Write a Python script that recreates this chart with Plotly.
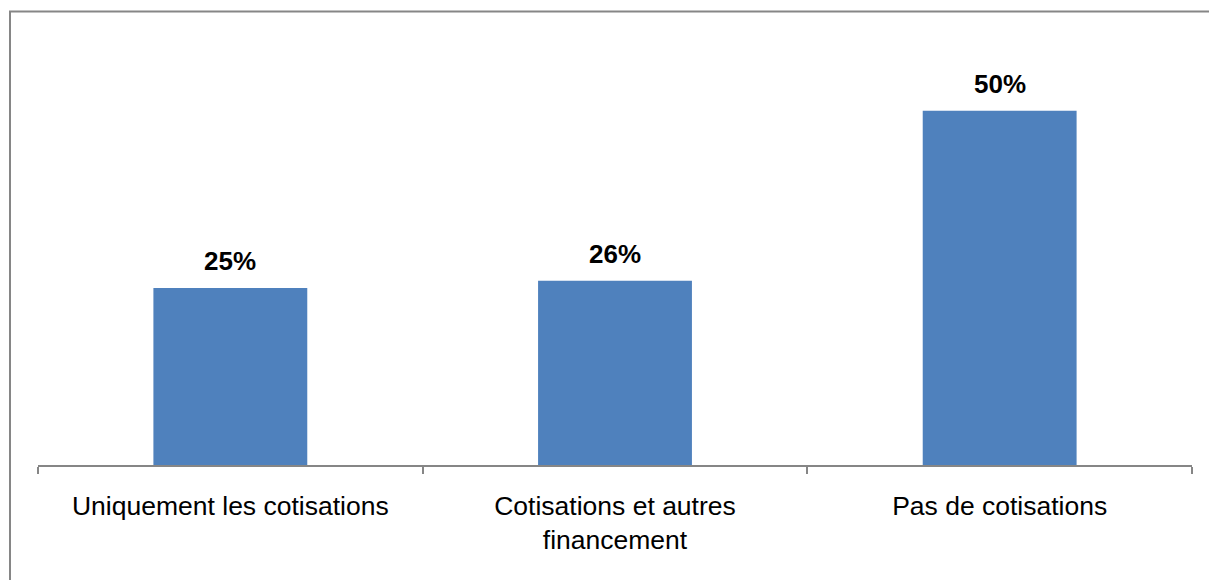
import plotly.graph_objects as go

categories = ["Uniquement les cotisations", "Cotisations et autres<br>financement", "Pas de cotisations"]
values = [25, 26, 50]
value_labels = ["25%", "26%", "50%"]

W, H = 1209, 580
ml, mr, mt, mb = 38, 17, 40, 115
pw, ph = W - ml - mr, H - mt - mb

fig = go.Figure()
fig.add_trace(go.Bar(
    x=categories, y=values, width=0.4,
    marker=dict(color="#4F81BD", line=dict(width=0)),
    hoverinfo="skip",
))

for c, v, t in zip(categories, values, value_labels):
    fig.add_annotation(x=c, y=v, text="<b>" + t + "</b>", showarrow=False,
                       yanchor="bottom", yshift=10,
                       font=dict(family="Liberation Sans, Arial", size=26, color="#000000"))

# outer frame (cropped rectangle)
def px_x(p):
    return (p - ml) / pw

def px_y(p):
    return (H - mb - p) / ph

fig.add_shape(type="rect", xref="paper", yref="paper",
              x0=px_x(10), x1=px_x(1230), y0=px_y(600), y1=px_y(11.5),
              line=dict(color="#868686", width=2), fillcolor="rgba(0,0,0,0)", layer="below")

fig.update_layout(
    width=W, height=H,
    margin=dict(l=ml, r=mr, t=mt, b=mb),
    paper_bgcolor="white", plot_bgcolor="white",
    showlegend=False,
    font=dict(family="Liberation Sans, Arial", size=26, color="#000000"),
    xaxis=dict(
        type="category", range=[-0.5, 2.5],
        showline=True, linecolor="#868686", linewidth=2,
        ticks="outside", tickson="boundaries", ticklen=7, tickwidth=2, tickcolor="#868686",
        ticklabelstandoff=16,
        showgrid=False, zeroline=False,
        tickfont=dict(family="Liberation Sans, Arial", size=26.5, color="#000000"),
    ),
    yaxis=dict(range=[0, 60], visible=False, showgrid=False, zeroline=False),
)

fig.write_html("out.html")
